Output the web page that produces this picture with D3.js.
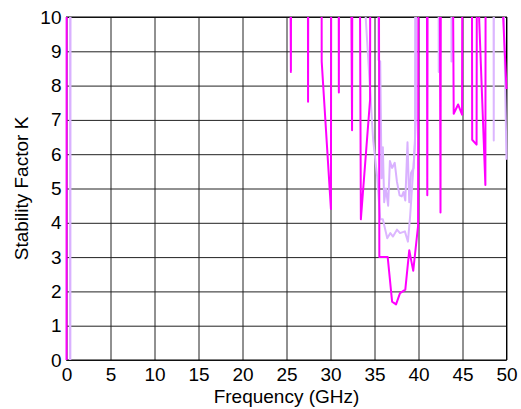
<!DOCTYPE html>
<html>
<head>
<meta charset="utf-8">
<script src="https://cdn.jsdelivr.net/npm/d3@7"></script>
<style>
  html, body { margin: 0; padding: 0; background: #fff; }
  svg { display: block; }
  text { font-family: "Liberation Sans", Arial, sans-serif; }
</style>
</head>
<body>
<svg id="chart" width="521" height="409"></svg>
<script>
// Stability factor K versus frequency; values above 10 run off the top of the plot.
const xTicks = [0, 5, 10, 15, 20, 25, 30, 35, 40, 45, 50];
const yTicks = [0, 1, 2, 3, 4, 5, 6, 7, 8, 9, 10];

// Magenta trace
const freqMagenta = [0, 0.05, 24.85, 25.5, 25.7, 27.3, 27.45, 27.65, 28.85, 29.0, 30.05, 30.2,
  30.75, 30.95, 31.1, 31.7, 32.45, 32.65, 32.9, 33.45, 34.5, 34.6, 35.35, 35.55, 36.5, 37.0,
  37.45, 37.9, 38.5, 38.95, 39.4, 39.95, 40.15, 40.75, 41.0, 41.2, 42.1, 42.5, 42.7, 43.3,
  44.0, 44.5, 44.95, 45.15, 45.9, 46.1, 46.6, 46.8, 46.9, 47.6, 47.75, 49.5, 49.6, 50];
const kMagenta = [0, 40, 40, 8.4, 40, 40, 7.53, 40, 40, 8.7, 4.4, 40,
  40, 7.8, 40, 40, 6.7, 40, 40, 4.1, 7.6, 40, 40, 3.0, 3.0, 1.7,
  1.62, 1.95, 2.05, 3.2, 2.6, 3.9, 40, 40, 4.8, 40, 40, 4.3, 40, 40,
  7.18, 7.45, 7.15, 40, 40, 6.42, 6.28, 40, 9.9, 5.1, 40, 40, 10.1, 7.9];

// Light violet trace, lower branch
const freqLower = [0.42, 0.47, 33.85, 33.95, 34.85, 35.3, 35.65, 35.95, 36.45, 36.8, 37.1,
  37.55, 37.9, 38.45, 38.8, 39.05, 39.6, 39.8, 42.1, 42.3, 42.45, 48.4, 48.55, 48.7];
const kLower = [0, 40, 40, 10.2, 6.4, 5.35, 4.1, 4.1, 3.55, 3.7, 3.6,
  3.8, 3.7, 3.75, 3.45, 4.2, 6.3, 40, 40, 8.4, 40, 40, 6.4, 40];

// Light violet trace, upper branch
const freqUpper = [0.42, 0.47, 35.2, 35.45, 35.65, 35.8, 35.95, 36.1, 36.3, 36.55, 36.75,
  37.0, 37.3, 37.55, 37.85, 38.1, 38.3, 38.5, 38.75, 38.95, 39.15, 39.45, 39.7, 39.85,
  43.6, 43.75, 43.9, 49.6, 49.7, 50];
const kUpper = [0, 40, 40, 8.75, 8.7, 5.3, 6.2, 4.6, 5.0, 4.5, 5.8,
  5.6, 5.75, 5.2, 4.8, 4.77, 4.9, 4.65, 6.35, 4.6, 5.45, 5.6, 7.0, 40,
  40, 8.7, 40, 40, 10.2, 5.84];

const series = [
  { f: freqLower, k: kLower, color: "#dcb6ff" },
  { f: freqUpper, k: kUpper, color: "#d9b1ff" },
  { f: freqMagenta, k: kMagenta, color: "#ff00ff" }
];

const svg = d3.select("#chart");
const plotLeft = 66.5, plotRight = 506.5, plotTop = 17, plotBottom = 360;
const fontSize = "19px";

const x = d3.scaleLinear().domain([0, 50]).range([plotLeft, plotRight]);
const y = d3.scaleLinear().domain([0, 10]).range([plotBottom, plotTop]);

// traces may spill half a stroke past the frame on the left/right edges
svg.append("defs").append("clipPath").attr("id", "plotClip")
  .append("rect").attr("x", plotLeft - 1.5).attr("y", plotTop)
  .attr("width", plotRight - plotLeft + 3).attr("height", plotBottom - plotTop);

// grid + tick labels
const xAxis = svg.append("g")
  .attr("transform", `translate(0,${plotBottom})`)
  .call(d3.axisBottom(x).tickValues(xTicks).tickFormat(d3.format("d"))
    .tickSize(-(plotBottom - plotTop)).tickPadding(8));
const yAxis = svg.append("g")
  .attr("transform", `translate(${plotLeft},0)`)
  .call(d3.axisLeft(y).tickValues(yTicks).tickFormat(d3.format("d"))
    .tickSize(-(plotRight - plotLeft)).tickPadding(5));

[xAxis, yAxis].forEach(g => {
  g.select(".domain").remove();
  g.selectAll(".tick line").attr("stroke", "#222").attr("stroke-width", 1);
  g.selectAll(".tick text").attr("fill", "#000").style("font-size", fontSize);
});

// frame
svg.append("rect")
  .attr("x", plotLeft).attr("y", plotTop)
  .attr("width", plotRight - plotLeft).attr("height", plotBottom - plotTop)
  .attr("fill", "none").attr("stroke", "#000").attr("stroke-width", 1);

const line = d3.line().x(d => x(d[0])).y(d => y(d[1]));

const plot = svg.append("g").attr("clip-path", "url(#plotClip)");
series.forEach(s => {
  const pts = s.f.map((f, i) => [f, s.k[i]]);
  plot.append("path")
    .datum(pts)
    .attr("fill", "none")
    .attr("stroke", s.color)
    .attr("stroke-width", 2)
    .attr("stroke-linejoin", "round")
    .attr("d", line);
});

svg.append("text")
  .attr("x", (plotLeft + plotRight) / 2).attr("y", 402.5)
  .attr("text-anchor", "middle")
  .style("font-size", fontSize)
  .text("Frequency (GHz)");

svg.append("text")
  .attr("transform", `translate(28,188.5) rotate(-90)`)
  .attr("text-anchor", "middle")
  .style("font-size", fontSize)
  .text("Stability Factor K");
</script>
</body>
</html>
